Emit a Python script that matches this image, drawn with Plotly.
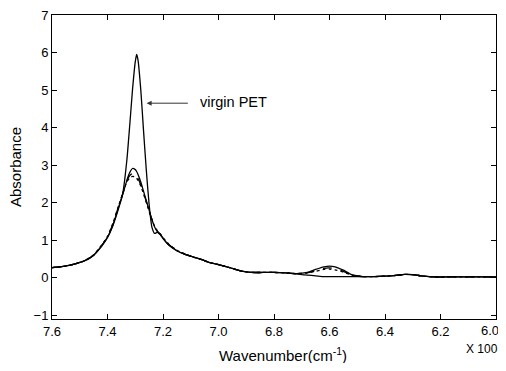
import plotly.graph_objects as go

wavenumber = [7.60, 7.56, 7.52, 7.48, 7.45, 7.42, 7.40, 7.38, 7.36, 7.345, 7.33, 7.32, 7.31, 7.30,
              7.295, 7.29, 7.28, 7.27, 7.26, 7.25, 7.24, 7.23, 7.22, 7.21, 7.20, 7.18, 7.15, 7.12,
              7.09, 7.06, 7.03, 7.00, 6.96, 6.92, 6.88, 6.84, 6.80, 6.76, 6.72, 6.68, 6.65, 6.62,
              6.60, 6.58, 6.55, 6.52, 6.48, 6.44, 6.40, 6.36, 6.33, 6.30, 6.26, 6.22, 6.18, 6.12,
              6.06, 6.00]

virgin_pet = [0.27, 0.30, 0.36, 0.46, 0.60, 0.85, 1.07, 1.40, 1.85, 2.25, 3.15, 4.05, 5.00, 5.75,
              5.95, 5.80, 5.00, 3.90, 2.85, 1.95, 1.35, 1.18, 1.21, 1.16, 1.05, 0.88, 0.72, 0.62,
              0.55, 0.48, 0.40, 0.35, 0.27, 0.18, 0.14, 0.14, 0.14, 0.13, 0.10, 0.07, 0.05, 0.03,
              0.03, 0.03, 0.03, 0.03, 0.03, 0.03, 0.04, 0.06, 0.09, 0.08, 0.04, 0.02, 0.02, 0.02,
              0.02, 0.02]

sample_a = [0.27, 0.30, 0.36, 0.46, 0.60, 0.86, 1.08, 1.42, 1.88, 2.22, 2.60, 2.80, 2.91, 2.88,
            2.83, 2.75, 2.55, 2.30, 2.05, 1.80, 1.55, 1.35, 1.22, 1.15, 1.05, 0.88, 0.72, 0.62,
            0.55, 0.48, 0.40, 0.35, 0.27, 0.18, 0.14, 0.14, 0.14, 0.13, 0.11, 0.14, 0.22, 0.29,
            0.31, 0.29, 0.20, 0.08, 0.03, 0.03, 0.04, 0.06, 0.09, 0.08, 0.04, 0.02, 0.02, 0.02,
            0.02, 0.02]

sample_b = [0.27, 0.30, 0.36, 0.46, 0.60, 0.87, 1.09, 1.44, 1.90, 2.24, 2.58, 2.72, 2.78, 2.76,
            2.72, 2.65, 2.48, 2.26, 2.02, 1.78, 1.55, 1.36, 1.24, 1.16, 1.06, 0.89, 0.73, 0.62,
            0.55, 0.48, 0.40, 0.35, 0.27, 0.18, 0.14, 0.14, 0.14, 0.13, 0.11, 0.13, 0.19, 0.25,
            0.26, 0.24, 0.17, 0.07, 0.03, 0.03, 0.04, 0.06, 0.09, 0.08, 0.04, 0.02, 0.02, 0.02,
            0.02, 0.02]

sample_c = [0.27, 0.30, 0.36, 0.46, 0.61, 0.88, 1.10, 1.46, 1.92, 2.25, 2.56, 2.66, 2.70, 2.68,
            2.65, 2.59, 2.44, 2.23, 2.00, 1.77, 1.55, 1.37, 1.25, 1.17, 1.07, 0.90, 0.73, 0.63,
            0.55, 0.48, 0.40, 0.35, 0.27, 0.18, 0.14, 0.14, 0.14, 0.13, 0.11, 0.13, 0.17, 0.22,
            0.23, 0.21, 0.15, 0.07, 0.03, 0.03, 0.04, 0.06, 0.09, 0.08, 0.04, 0.02, 0.02, 0.02,
            0.02, 0.02]

series = [
    ("virgin PET", virgin_pet, "solid"),
    ("sample A", sample_a, "solid"),
    ("sample B", sample_b, "dash"),
    ("sample C", sample_c, "dot"),
]

x_ticks = [7.6, 7.4, 7.2, 7.0, 6.8, 6.6, 6.4, 6.2, 6.0]
x_tick_labels = ["7.6", "7.4", "7.2", "7.0", "6.8", "6.6", "6.4", "6.2", "6.0"]
y_ticks = [-1, 0, 1, 2, 3, 4, 5, 6, 7]

fig = go.Figure()
for name, vals, dash in series:
    fig.add_trace(go.Scatter(
        x=wavenumber, y=vals, mode="lines", name=name,
        line=dict(color="black", width=1.3, dash=dash, shape="spline", smoothing=0.5),
        showlegend=False, cliponaxis=False,
    ))

font = "Liberation Sans, Arial, sans-serif"
axis_common = dict(showline=True, linecolor="black", linewidth=1, mirror="ticks",
                   ticks="inside", ticklen=5, tickcolor="black", showgrid=False,
                   zeroline=False, automargin=False, ticklabeloverflow="allow",
                   tickfont=dict(family=font, size=13, color="black"))

# the last x tick label sits at the window edge; it is drawn as an annotation so it is not clipped
shown_x_labels = x_tick_labels[:-1] + [""]

# the page body has an 8px default margin, so the figure is sized to fit inside it
fig.update_layout(
    width=498, height=355,
    margin=dict(l=44, r=10, t=7, b=44),
    paper_bgcolor="white", plot_bgcolor="white",
    xaxis=dict(range=[7.6, 6.0], tickvals=x_ticks, ticktext=shown_x_labels, **axis_common),
    yaxis=dict(range=[-1.1, 7], tickvals=y_ticks, **axis_common),
    annotations=[
        dict(x=7.259, y=4.65, ax=7.105, ay=4.65, xref="x", yref="y", axref="x", ayref="y",
             text="", showarrow=True, arrowhead=2, arrowsize=1, arrowwidth=1, arrowcolor="#333"),
        dict(x=7.075, y=4.68, xref="x", yref="y", text="virgin PET", showarrow=False,
             xanchor="left", yanchor="middle", font=dict(family=font, size=14.5, color="black")),
        dict(x=x_ticks[-1], y=0, xref="x", yref="paper", showarrow=False,
             text=x_tick_labels[-1], xanchor="right", yanchor="middle", xshift=5, yshift=-11,
             font=dict(family=font, size=13, color="black")),
        dict(x=0.52, y=0, xref="paper", yref="paper", showarrow=False,
             text="Wavenumber(cm<sup>-1</sup>)", xanchor="center", yanchor="middle", yshift=-35,
             font=dict(family=font, size=15, color="black")),
        dict(x=1.0, y=0, xref="paper", yref="paper", showarrow=False, text="X 100",
             xanchor="right", yanchor="middle", yshift=-30, xshift=4,
             font=dict(family=font, size=12, color="black")),
        dict(x=0, y=0.5, xref="paper", yref="paper", showarrow=False, text="Absorbance",
             textangle=-90, xanchor="center", yanchor="middle", xshift=-37,
             font=dict(family=font, size=15, color="black")),
    ],
)

fig.write_html("out.html")
